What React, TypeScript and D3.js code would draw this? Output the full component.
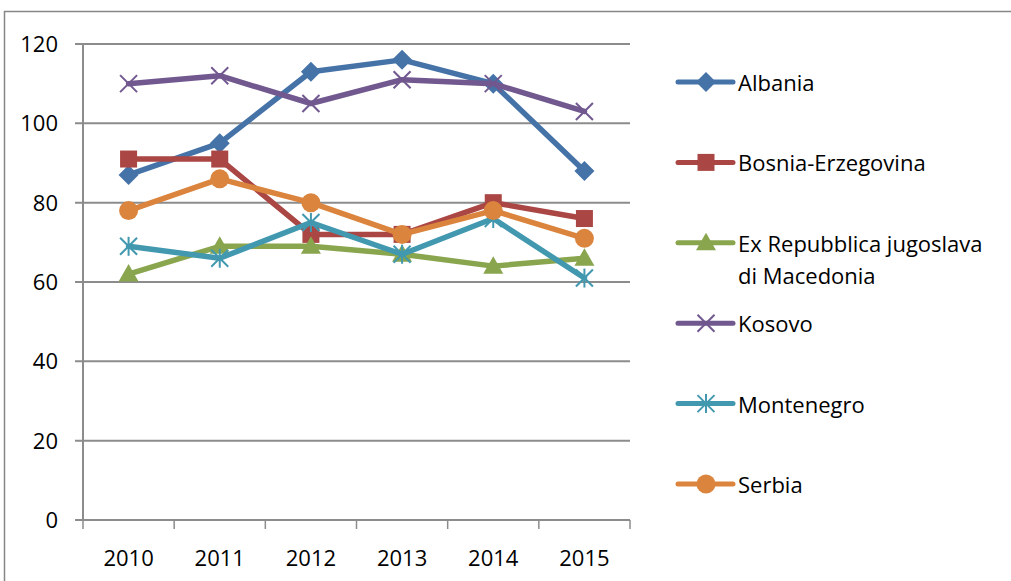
import * as d3 from "d3";

const years = ["2010", "2011", "2012", "2013", "2014", "2015"];
const yTicks = [0, 20, 40, 60, 80, 100, 120];

const albania = [87, 95, 113, 116, 110, 88];
const bosnia = [91, 91, 72, 72, 80, 76];
const macedonia = [62, 69, 69, 67, 64, 66];
const kosovo = [110, 112, 105, 111, 110, 103];
const montenegro = [69, 66, 75, 67, 76, 61];
const serbia = [78, 86, 80, 72, 78, 71];

const seriesNames = [
  ["Albania"],
  ["Bosnia-Erzegovina"],
  ["Ex Repubblica jugoslava", "di Macedonia"],
  ["Kosovo"],
  ["Montenegro"],
  ["Serbia"],
];
const seriesColors = ["#4573A8", "#AA4643", "#89A54E", "#71588F", "#4198AF", "#DB843D"];
const seriesMarkers = ["diamond", "square", "triangle", "x", "star", "circle"];
const seriesValues = [albania, bosnia, macedonia, kosovo, montenegro, serbia];

const W = 1011;
const H = 581;
const plot = { left: 83, right: 630, top: 44, bottom: 520 };
const FONT = "'Open Sans', 'Noto Sans', sans-serif";
const FS = 22;

function Marker({ type, x, y, color }: { type: string; x: number; y: number; color: string }) {
  if (type === "diamond") {
    const r = 10;
    return <path d={`M${x},${y - r}L${x + r},${y}L${x},${y + r}L${x - r},${y}Z`} fill={color} />;
  }
  if (type === "square") {
    const s = 17;
    return <rect x={x - s / 2} y={y - s / 2} width={s} height={s} fill={color} />;
  }
  if (type === "triangle") {
    const r = 10;
    return <path d={`M${x},${y - r}L${x + r},${y + r * 0.75}L${x - r},${y + r * 0.75}Z`} fill={color} />;
  }
  if (type === "circle") {
    return <circle cx={x} cy={y} r={9.5} fill={color} />;
  }
  const r = 8.5;
  const lines = [
    [x - r, y - r, x + r, y + r],
    [x - r, y + r, x + r, y - r],
  ];
  if (type === "star") lines.push([x, y - r - 1, x, y + r + 1]);
  return (
    <g stroke={color} strokeWidth={2}>
      {lines.map((l, i) => (
        <line key={i} x1={l[0]} y1={l[1]} x2={l[2]} y2={l[3]} />
      ))}
    </g>
  );
}

export default function App() {
  const x = d3.scaleBand().domain(years).range([plot.left, plot.right]);
  const y = d3.scaleLinear().domain([0, 120]).range([plot.bottom, plot.top]);
  const cx = (yr: string) => (x(yr) as number) + x.bandwidth() / 2;

  const line = d3
    .line<number>()
    .x((_, i) => cx(years[i]))
    .y((d) => y(d));

  const legendX = 678;
  const legendY = d3.scaleLinear().domain([0, 5]).range([82, 484]);

  return (
    <div style={{ position: "absolute", left: 0, top: 0 }}>
      <svg width={W} height={H} style={{ display: "block", background: "#fff" }}>
        <rect x={4.5} y={11.5} width={W + 10} height={H + 10} fill="none" stroke="#868686" strokeWidth={1.5} />

        {/* gridlines */}
        {yTicks.map((t) => (
          <line key={t} x1={plot.left - 8} x2={plot.right} y1={y(t)} y2={y(t)} stroke="#8c8c8c" strokeWidth={2} />
        ))}
        <line x1={plot.left} x2={plot.left} y1={plot.top} y2={plot.bottom} stroke="#8c8c8c" strokeWidth={2} />
        {x.domain().concat(["end"]).map((yr, i) => {
          const xx = plot.left + i * x.bandwidth();
          return <line key={yr} x1={xx} x2={xx} y1={plot.bottom} y2={plot.bottom + 9} stroke="#8c8c8c" strokeWidth={1.5} />;
        })}

        {/* axis labels */}
        {yTicks.map((t) => (
          <text key={t} x={58} y={y(t)} dy="0.36em" textAnchor="end" fontFamily={FONT} fontSize={FS} fill="#000">
            {t}
          </text>
        ))}
        {years.map((yr) => (
          <text key={yr} x={cx(yr)} y={558} dy="0.36em" textAnchor="middle" fontFamily={FONT} fontSize={FS} fill="#000">
            {yr}
          </text>
        ))}

        {/* series */}
        {seriesValues.map((vals, si) => (
          <g key={si}>
            <path d={line(vals) || ""} fill="none" stroke={seriesColors[si]} strokeWidth={5.5} strokeLinejoin="round" strokeLinecap="round" />
            {vals.map((v, i) => (
              <Marker key={i} type={seriesMarkers[si]} x={cx(years[i])} y={y(v)} color={seriesColors[si]} />
            ))}
          </g>
        ))}

        {/* legend */}
        {seriesNames.map((names, si) => {
          const ly = legendY(si);
          return (
            <g key={si}>
              <line x1={legendX} x2={legendX + 55} y1={ly} y2={ly} stroke={seriesColors[si]} strokeWidth={5} strokeLinecap="round" />
              <Marker type={seriesMarkers[si]} x={legendX + 28} y={ly} color={seriesColors[si]} />
              {names.map((n, k) => (
                <text key={k} x={legendX + 60} y={ly + 1 + k * 32} dy="0.36em" fontFamily={FONT} fontSize={FS} fill="#000">
                  {n}
                </text>
              ))}
            </g>
          );
        })}
      </svg>
    </div>
  );
}
